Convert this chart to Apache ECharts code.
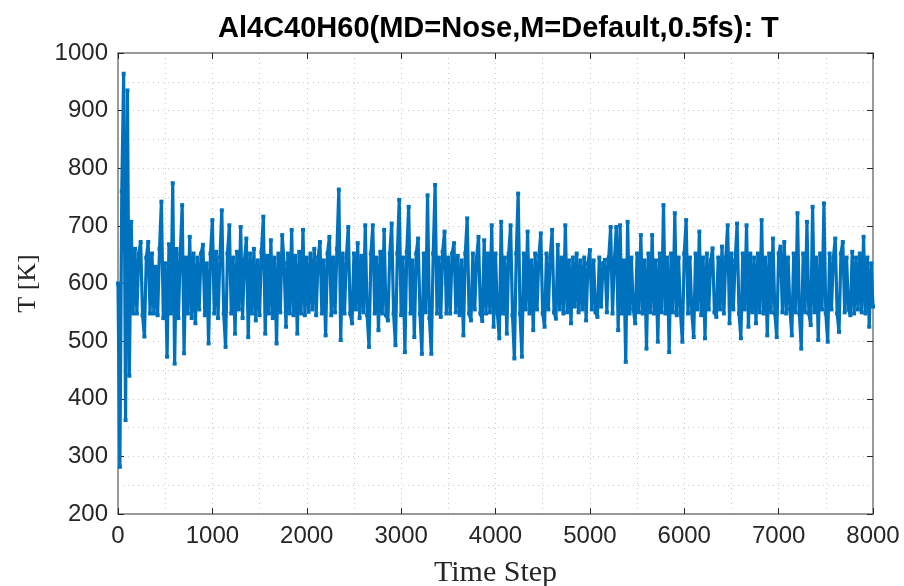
<!DOCTYPE html>
<html>
<head>
<meta charset="utf-8">
<style>
  html, body { margin: 0; padding: 0; background: #ffffff; }
  #chart { width: 904px; height: 586px; }
</style>
<script src="https://cdn.jsdelivr.net/npm/echarts@6/dist/echarts.min.js"></script>
</head>
<body>
<div id="chart"></div>
<script>
// Temperature trace of the MD run, one value every 20 time steps (0 ... 8000)
const stepSize = 20;
const temperature = [
  600, 282, 760, 964, 363, 935, 440, 707, 548, 660,
  548, 652, 672, 545, 508, 645, 672, 548, 652, 548,
  629, 545, 660, 742, 540, 635, 473, 668, 548, 774,
  461, 660, 540, 652, 736, 479, 645, 548, 681, 540,
  652, 531, 645, 555, 652, 667, 545, 635, 496, 652,
  710, 548, 655, 540, 645, 727, 548, 490, 652, 701,
  548, 645, 513, 655, 555, 698, 540, 640, 678, 507,
  652, 548, 660, 536, 640, 545, 655, 716, 513, 648,
  548, 675, 540, 645, 496, 652, 550, 684, 635, 525,
  652, 548, 693, 545, 648, 513, 655, 548, 693, 545,
  645, 551, 652, 555, 660, 545, 645, 672, 548, 640,
  510, 652, 681, 545, 645, 550, 660, 763, 502, 652,
  548, 645, 698, 548, 531, 652, 555, 670, 540, 648,
  550, 701, 545, 490, 652, 701, 548, 645, 519, 655,
  548, 693, 545, 536, 652, 704, 548, 493, 652, 745,
  545, 645, 481, 655, 733, 548, 640, 507, 652, 678,
  548, 478, 652, 550, 753, 540, 478, 652, 771, 548,
  645, 542, 655, 690, 548, 645, 548, 652, 670, 550,
  648, 545, 640, 510, 652, 713, 548, 536, 652, 555,
  645, 681, 548, 535, 675, 548, 652, 550, 701, 525,
  652, 548, 505, 707, 548, 645, 513, 652, 701, 545,
  470, 652, 756, 548, 473, 652, 555, 690, 548, 640,
  519, 652, 555, 648, 687, 548, 525, 652, 555, 645,
  693, 550, 539, 667, 555, 645, 548, 701, 550, 640,
  531, 645, 560, 652, 550, 640, 555, 645, 536, 635,
  658, 555, 640, 550, 542, 645, 560, 635, 641, 550,
  645, 698, 548, 640, 698, 519, 701, 548, 640, 464,
  707, 548, 645, 555, 531, 652, 550, 684, 548, 640,
  487, 652, 550, 684, 548, 640, 499, 652, 550, 736,
  548, 645, 481, 652, 550, 722, 545, 645, 550, 499,
  652, 710, 548, 645, 550, 507, 652, 555, 690, 545,
  645, 505, 652, 555, 640, 661, 550, 542, 645, 555,
  664, 548, 645, 701, 531, 652, 555, 640, 704, 548,
  505, 652, 555, 701, 525, 652, 550, 645, 531, 652,
  550, 710, 548, 645, 510, 652, 550, 678, 548, 507,
  652, 664, 550, 672, 548, 645, 555, 510, 652, 550,
  722, 548, 487, 652, 550, 707, 548, 528, 733, 550,
  645, 502, 652, 555, 739, 548, 499, 652, 555, 645,
  678, 548, 516, 652, 672, 550, 645, 555, 545, 655,
  548, 645, 555, 652, 550, 681, 548, 645, 525, 635,
  560
];

// Axis ranges and tick spacing
const xRange = [0, 8000];
const xTickStep = 1000;
const yRange = [200, 1000];
const yTickStep = 100;

const points = temperature.map((t, i) => [i * stepSize, t]);

const frameColor = '#7a7a7a';
const textColor = '#262626';
const gridColor = '#c8c8c8';
const sansFont = '"Liberation Sans", Arial, Helvetica, sans-serif';
const serifFont = '"Liberation Serif", "Times New Roman", serif';

const dotted = { color: gridColor, type: [1, 4], width: 1 };
const plainNumber = v => String(v);

function framedAxis(extra) {
  return Object.assign({
    type: 'value',
    axisLine: { show: true, onZero: false, lineStyle: { color: frameColor, width: 1.5 } },
    axisTick: { show: true, inside: true, length: 6, lineStyle: { color: textColor, width: 1 } },
    minorTick: { show: false, splitNumber: 2 },
    splitLine: { show: false },
    minorSplitLine: { show: false },
    axisLabel: { show: false }
  }, extra);
}

const chart = echarts.init(document.getElementById('chart'), null, { renderer: 'canvas' });

chart.setOption({
  animation: false,
  backgroundColor: '#ffffff',
  title: {
    text: 'Al4C40H60(MD=Nose,M=Default,0.5fs): T',
    left: 213,
    top: 9,
    textStyle: { fontFamily: sansFont, fontWeight: 'bold', fontSize: 29, color: '#000000' }
  },
  grid: { left: 118, right: 31, top: 53, bottom: 72, containLabel: false, outerBoundsMode: 'none' },
  xAxis: [
    framedAxis({
      position: 'bottom',
      min: xRange[0], max: xRange[1], interval: xTickStep,
      splitLine: { show: true, lineStyle: dotted },
      minorSplitLine: { show: true, lineStyle: dotted },
      axisLabel: { show: true, margin: 10, fontFamily: sansFont, fontSize: 24, color: textColor, formatter: plainNumber },
      name: 'Time Step',
      nameLocation: 'middle',
      nameGap: 44,
      nameTextStyle: { fontFamily: serifFont, fontSize: 30, color: textColor }
    }),
    framedAxis({
      position: 'top',
      min: xRange[0], max: xRange[1], interval: xTickStep
    })
  ],
  yAxis: [
    framedAxis({
      position: 'left',
      min: yRange[0], max: yRange[1], interval: yTickStep,
      splitLine: { show: true, lineStyle: dotted },
      minorSplitLine: { show: true, lineStyle: dotted },
      axisLabel: { show: true, margin: 10, fontFamily: sansFont, fontSize: 24, color: textColor, formatter: plainNumber },
      name: 'T [K]',
      nameLocation: 'middle',
      nameGap: 77,
      nameTextStyle: { fontFamily: serifFont, fontSize: 26, color: textColor }
    }),
    framedAxis({
      position: 'right',
      min: yRange[0], max: yRange[1], interval: yTickStep
    })
  ],
  series: [{
    type: 'line',
    data: points,
    xAxisIndex: 0,
    yAxisIndex: 0,
    showSymbol: true,
    symbol: 'rect',
    symbolSize: 4,
    itemStyle: { color: '#0072BD' },
    lineStyle: { color: '#0072BD', width: 3.2 },
    clip: true
  }]
});
</script>
</body>
</html>
